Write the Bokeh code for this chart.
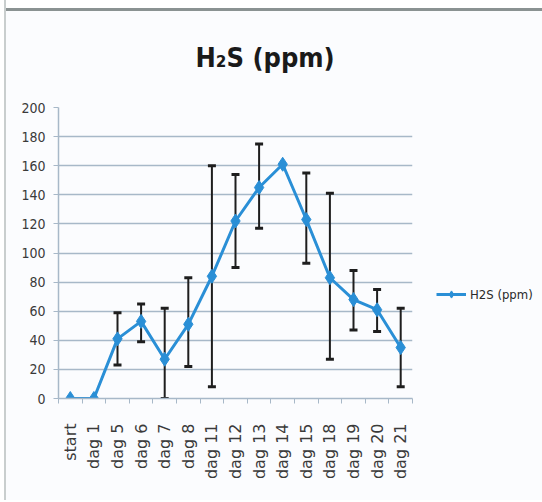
import math
from bokeh.plotting import figure
from bokeh.models import (ColumnDataSource, Whisker, TeeHead, FixedTicker, Range1d,
                          Legend, LegendItem)
from bokeh.embed import file_html
from bokeh.resources import INLINE

# ---- data ----
categories = ["start", "dag 1", "dag 5", "dag 6", "dag 7", "dag 8", "dag 11", "dag 12",
              "dag 13", "dag 14", "dag 15", "dag 18", "dag 19", "dag 20", "dag 21"]
h2s_ppm = [0, 0, 41, 53, 27, 51, 84, 122, 145, 161, 123, 83, 68, 61, 35]
err_lower = [0, 0, 23, 39, 0, 22, 8, 90, 117, 161, 93, 27, 47, 46, 8]
err_upper = [0, 0, 59, 65, 62, 83, 160, 154, 175, 161, 155, 141, 88, 75, 62]
y_ticks = [0, 20, 40, 60, 80, 100, 120, 140, 160, 180, 200]
title_text = "H\u2082S (ppm)"
series_name = "H2S (ppm)"

COND = "DejaVu Sans Condensed"

xpos = [i + 0.5 for i in range(len(categories))]

src = ColumnDataSource(dict(x=xpos, y=h2s_ppm))
has_err = [i for i in range(len(categories)) if err_upper[i] != err_lower[i]]
err_src = ColumnDataSource(dict(
    x=[xpos[i] for i in has_err],
    lower=[err_lower[i] for i in has_err],
    upper=[err_upper[i] for i in has_err],
))

p = figure(width=540, height=500, output_backend="svg", toolbar_location=None,
           x_range=Range1d(0, len(categories)), y_range=Range1d(0, 200),
           frame_width=354, frame_height=291,
           min_border_left=58, min_border_right=128, min_border_top=107, min_border_bottom=102,
           background_fill_color="#fbfcfe", border_fill_color=None)
p.styles = {"background": (
    "linear-gradient(to right, #ffffff 0px, #ffffff 4px, #c9cece 4px, #c9cece 6px, "
    "rgba(255,255,255,0) 6px), "
    "linear-gradient(to bottom, #ffffff 0px, #ffffff 8px, #8a9292 8px, #8a9292 11px, "
    "#fbfcfe 11px)")}
p.outline_line_color = None

p.title.text = title_text
p.title.align = "left"
p.title.offset = 137
p.title.standoff = 70
p.title.text_font = COND
p.title.text_font_style = "bold"
p.title.text_font_size = "27px"
p.title.text_color = "#1a1a1a"

# grid
p.xgrid.grid_line_color = None
p.ygrid.grid_line_color = "#a7b8c8"
p.ygrid.grid_line_width = 1.5
p.ygrid.ticker = FixedTicker(ticks=y_ticks)

# y axis
p.yaxis.ticker = FixedTicker(ticks=y_ticks)
p.yaxis.axis_line_color = "#a7b8c8"
p.yaxis.axis_line_width = 1.5
p.yaxis.major_tick_line_color = "#a7b8c8"
p.yaxis.major_tick_out = 5
p.yaxis.major_tick_in = 0
p.yaxis.minor_tick_line_color = None
p.yaxis.major_label_standoff = 8
p.yaxis.major_label_text_font = COND
p.yaxis.major_label_text_font_size = "14px"
p.yaxis.major_label_text_color = "#3a3a3a"

# x axis
p.xaxis.ticker = FixedTicker(ticks=xpos, minor_ticks=list(range(len(categories) + 1)))
p.xaxis.major_label_overrides = {x: c for x, c in zip(xpos, categories)}
p.xaxis.major_label_orientation = math.pi / 2
p.xaxis.axis_line_color = "#a7b8c8"
p.xaxis.axis_line_width = 1.5
p.xaxis.major_tick_line_color = None
p.xaxis.minor_tick_line_color = "#a7b8c8"
p.xaxis.minor_tick_out = 5
p.xaxis.minor_tick_in = 0
p.xaxis.major_label_standoff = 19
p.xaxis.major_label_text_font = "DejaVu Sans"
p.xaxis.major_label_text_font_size = "16px"
p.xaxis.major_label_text_color = "#3a3a3a"

# error bars
wh = Whisker(source=err_src, base="x", lower="lower", upper="upper", dimension="height",
             line_color="#1e1e1e", line_width=2,
             upper_head=TeeHead(size=8, line_color="#1e1e1e", line_width=3),
             lower_head=TeeHead(size=8, line_color="#1e1e1e", line_width=3))
p.add_layout(wh)

line_color = "#2a8fd6"
r_line = p.line("x", "y", source=src, line_color=line_color, line_width=3)
r_pts = p.scatter("x", "y", source=src, marker="diamond", size=14,
                  fill_color=line_color, line_color=line_color)

legend = Legend(items=[LegendItem(label=series_name, renderers=[r_line, r_pts])],
                location=(24, 95), padding=0, margin=0, spacing=0,
                glyph_width=30, glyph_height=18, label_standoff=4,
                border_line_color=None, background_fill_alpha=0,
                label_text_font=COND, label_text_font_size="13px",
                label_text_color="#2a2a2a")
p.add_layout(legend, "right")

open("out.html", "w").write(file_html(p, INLINE))
